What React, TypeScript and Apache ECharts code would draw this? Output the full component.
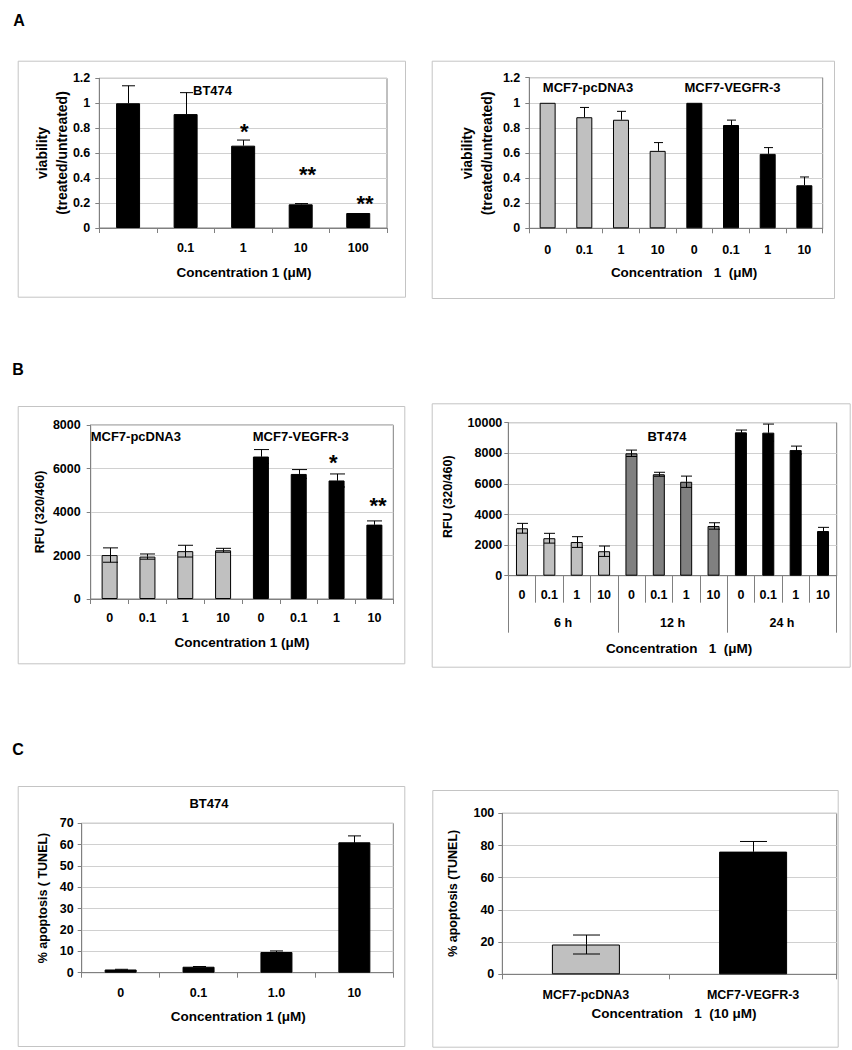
import React, { useEffect, useRef } from "react";
import * as echarts from "echarts";

const FONT = "'Liberation Sans', Arial, Helvetica, sans-serif";
const LIGHT = "#c0c0c0";
const DARK = "#808080";
const BLACK = "#000000";
const AXIS = "#808080";
const GRIDLINE = "#d0d0d0";
const BOX = "#c4c4c4";

// ---- Panel A left: BT474 viability
const aLeftCategories = ["", "0.1", "1", "10", "100"];
const aLeftViability = [1.0, 0.913, 0.66, 0.19, 0.12];
const aLeftUpper = [1.14, 1.085, 0.705, 0.196, 0.12];

// ---- Panel A right: MCF7 viability
const doseCategories = ["0", "0.1", "1", "10", "0", "0.1", "1", "10"];
const aRightPcDNA3 = [1.0, 0.885, 0.865, 0.617];
const aRightPcDNA3Upper = [1.0, 0.963, 0.932, 0.683];
const aRightVEGFR3 = [1.0, 0.823, 0.593, 0.343];
const aRightVEGFR3Upper = [1.0, 0.862, 0.643, 0.409];

// ---- Panel B left: MCF7 RFU
const bLeftPcDNA3 = [2020, 1950, 2200, 2240];
const bLeftPcDNA3Low = [1690, 1830, 1930, 2150];
const bLeftPcDNA3High = [2350, 2070, 2470, 2330];
const bLeftVEGFR3 = [6550, 5750, 5450, 3420];
const bLeftVEGFR3Low = [6230, 5550, 5150, 3250];
const bLeftVEGFR3High = [6870, 5950, 5750, 3590];

// ---- Panel B right: BT474 RFU over time
const bRightDoses = ["0", "0.1", "1", "10", "0", "0.1", "1", "10", "0", "0.1", "1", "10"];
const bRightTimes = ["6 h", "12 h", "24 h"];
const bRight6h = [3100, 2450, 2200, 1600];
const bRight6hLow = [2780, 2130, 1850, 1260];
const bRight6hHigh = [3420, 2770, 2550, 1940];
const bRight12h = [8000, 6630, 6140, 3250];
const bRight12hLow = [7790, 6500, 5770, 3040];
const bRight12hHigh = [8210, 6760, 6510, 3460];
const bRight24h = [9370, 9350, 8210, 2920];
const bRight24hLow = [9220, 8790, 7950, 2680];
const bRight24hHigh = [9520, 9910, 8470, 3160];

// ---- Panel C left: BT474 apoptosis
const cLeftCategories = ["0", "0.1", "1.0", "10"];
const cLeftApoptosis = [1.5, 2.8, 9.7, 61.1];
const cLeftLow = [1.5, 2.8, 9.7, 58.1];
const cLeftHigh = [1.6, 2.9, 10.2, 64.1];

// ---- Panel C right: MCF7 apoptosis
const cRightCategories = ["MCF7-pcDNA3", "MCF7-VEGFR-3"];
const cRightApoptosis = [18.5, 76.2];
const cRightLow = [12.6, 69.9];
const cRightHigh = [24.4, 82.5];

const txt = (size: number) => ({ color: "#000", fontSize: size, fontWeight: "bold" as const, fontFamily: FONT });

const errData = (vals: number[], lo: number[], hi: number[], offset = 0) =>
  vals.map((v, i) => [i + offset, v, lo[i], hi[i]]);

const errorRender = (cap: number) => (_params: any, api: any) => {
  const idx = api.value(0);
  const v = api.value(1);
  const lo = api.value(2);
  const hi = api.value(3);
  const top = api.coord([idx, hi]);
  const bot = api.coord([idx, lo]);
  const mid = api.coord([idx, v]);
  const x = Math.round(top[0]) + 0.5;
  const style = { stroke: "#000", lineWidth: 1 };
  const children: any[] = [];
  if (hi > v) {
    children.push({ type: "line", shape: { x1: x, y1: top[1], x2: x, y2: mid[1] }, style });
    children.push({ type: "line", shape: { x1: x - cap / 2, y1: top[1], x2: x + cap / 2, y2: top[1] }, style });
  }
  if (lo < v) {
    children.push({ type: "line", shape: { x1: x, y1: bot[1], x2: x, y2: mid[1] }, style });
    children.push({ type: "line", shape: { x1: x - cap / 2, y1: bot[1], x2: x + cap / 2, y2: bot[1] }, style });
  }
  return { type: "group", children };
};

const catAxis = (gridIndex: number, data: string[], margin: number, extra: any = {}) => ({
  type: "category",
  gridIndex,
  data,
  boundaryGap: true,
  axisLine: { show: true, lineStyle: { color: AXIS, width: 1 } },
  axisTick: { show: true, interval: 0, length: 5, lineStyle: { color: AXIS } },
  axisLabel: { interval: 0, margin, ...txt(12.5) },
  splitLine: { show: false },
  ...extra,
});

const valAxis = (gridIndex: number, max: number, interval: number, margin: number) => ({
  type: "value",
  gridIndex,
  min: 0,
  max,
  interval,
  axisLine: { show: true, lineStyle: { color: AXIS, width: 1 } },
  axisTick: { show: true, length: 4, lineStyle: { color: AXIS } },
  axisLabel: { margin, ...txt(12.5), formatter: (v: number) => String(Math.round(v * 1000) / 1000) },
  splitLine: { show: true, lineStyle: { color: GRIDLINE, width: 1 } },
});

const barItems = (vals: number[], color: string) => vals.map((v) => ({ value: v, itemStyle: { color } }));

const barSeries = (xi: number, yi: number, data: any[], width: number) => ({
  type: "bar",
  xAxisIndex: xi,
  yAxisIndex: yi,
  data,
  barWidth: width,
  z: 2,
  itemStyle: { color: BLACK, borderColor: "#000", borderWidth: 1 },
  silent: true,
});

const errSeries = (xi: number, yi: number, data: number[][], cap: number) => ({
  type: "custom",
  xAxisIndex: xi,
  yAxisIndex: yi,
  data,
  z: 3,
  silent: true,
  renderItem: errorRender(cap),
});

const label = (text: string, x: number, y: number, size = 12, align = "center", rotate = false) => ({
  type: "text",
  x,
  y,
  rotation: rotate ? Math.PI / 2 : 0,
  z: 10,
  silent: true,
  style: {
    text,
    fill: "#000",
    fontSize: size,
    fontWeight: "bold",
    fontFamily: FONT,
    align,
    verticalAlign: "middle",
  },
});

const box = (x: number, y: number, w: number, h: number) => ({
  type: "rect",
  shape: { x: x + 0.5, y: y + 0.5, width: w, height: h },
  z: 0,
  silent: true,
  style: { fill: "none", stroke: BOX, lineWidth: 1 },
});

const buildOption = () => {
  const grid = [
    { left: 99.3, top: 78.3, width: 287.7, height: 149.7 },
    { left: 529.3, top: 77.7, width: 293.4, height: 150.6 },
    { left: 90.7, top: 425, width: 302.6, height: 174 },
    { left: 508.3, top: 422.7, width: 328.4, height: 153 },
    { left: 81.7, top: 823.3, width: 311.6, height: 149.4 },
    { left: 502.3, top: 813.3, width: 334.4, height: 161 },
  ].map((g) => ({ ...g, show: true, borderColor: AXIS, borderWidth: 1, backgroundColor: "transparent" }));

  const xAxis = [
    catAxis(0, aLeftCategories, 13),
    catAxis(1, doseCategories, 15),
    catAxis(2, doseCategories, 12),
    catAxis(3, bRightDoses, 13, { axisTick: { show: true, interval: 0, length: 27, lineStyle: { color: AXIS } } }),
    catAxis(3, bRightTimes, 41, {
      position: "bottom",
      axisLine: { show: false },
      axisTick: { show: true, interval: 0, length: 57, lineStyle: { color: AXIS } },
    }),
    catAxis(4, cLeftCategories, 14),
    catAxis(5, cRightCategories, 14),
  ];

  const yAxis = [
    valAxis(0, 1.2, 0.2, 9),
    valAxis(1, 1.2, 0.2, 9),
    valAxis(2, 8000, 2000, 10),
    valAxis(3, 10000, 2000, 6),
    valAxis(4, 70, 10, 8),
    valAxis(5, 100, 20, 8),
  ];

  const series: any[] = [
    // A left
    barSeries(0, 0, aLeftViability, 24),
    errSeries(0, 0, errData(aLeftViability, aLeftViability, aLeftUpper), 13),
    // A right
    barSeries(1, 1, [...barItems(aRightPcDNA3, LIGHT), ...barItems(aRightVEGFR3, BLACK)], 16),
    errSeries(1, 1, errData(aRightPcDNA3, aRightPcDNA3, aRightPcDNA3Upper), 9),
    errSeries(1, 1, errData(aRightVEGFR3, aRightVEGFR3, aRightVEGFR3Upper, 4), 9),
    // B left
    barSeries(2, 2, [...barItems(bLeftPcDNA3, LIGHT), ...barItems(bLeftVEGFR3, BLACK)], 16),
    errSeries(2, 2, errData(bLeftPcDNA3, bLeftPcDNA3Low, bLeftPcDNA3High), 15),
    errSeries(2, 2, errData(bLeftVEGFR3, bLeftVEGFR3Low, bLeftVEGFR3High, 4), 15),
    // B right
    barSeries(3, 3, [...barItems(bRight6h, LIGHT), ...barItems(bRight12h, DARK), ...barItems(bRight24h, BLACK)], 12),
    errSeries(3, 3, errData(bRight6h, bRight6hLow, bRight6hHigh), 11),
    errSeries(3, 3, errData(bRight12h, bRight12hLow, bRight12hHigh, 4), 11),
    errSeries(3, 3, errData(bRight24h, bRight24hLow, bRight24hHigh, 8), 11),
    // C left
    barSeries(5, 4, cLeftApoptosis, 32),
    errSeries(5, 4, errData(cLeftApoptosis, cLeftLow, cLeftHigh), 13),
    // C right
    barSeries(6, 5, [...barItems([cRightApoptosis[0]], LIGHT), ...barItems([cRightApoptosis[1]], BLACK)], 68),
    errSeries(6, 5, errData(cRightApoptosis, cRightLow, cRightHigh), 27),
  ];

  const graphic = [
    // panel frames
    box(17.7, 60.7, 387.3, 236),
    box(431.7, 60.7, 402.3, 237.3),
    box(17.7, 406, 386.6, 257.3),
    box(431.7, 403.3, 418, 263.4),
    box(17.7, 786, 386.6, 260),
    box(432.3, 790, 405.4, 256.7),
    // panel letters
    label("A", 19, 20, 16),
    label("B", 18, 369, 16),
    label("C", 18, 749, 16),
    // axis titles
    label("Concentration 1 (μM)", 244, 272, 13.5),
    label("Concentration   1  (μM)", 684, 272.3, 13.5),
    label("Concentration 1 (μM)", 242, 642.7, 13.5),
    label("Concentration   1  (μM)", 679, 648, 13.5),
    label("Concentration 1 (μM)", 238.3, 1016.7, 13.5),
    label("Concentration   1  (10 μM)", 674, 1013.3, 13.5),
    label("viability", 41.7, 153, 14, "center", true),
    label("(treated/untreated)", 61.7, 153, 14, "center", true),
    label("viability", 466.7, 153.3, 14, "center", true),
    label("(treated/untreated)", 486.7, 153.3, 14, "center", true),
    label("RFU (320/460)", 40, 512, 12.5, "center", true),
    label("RFU (320/460)", 448.3, 496.7, 12.5, "center", true),
    label("% apoptosis ( TUNEL)", 43.3, 898, 12.5, "center", true),
    label("% apoptosis (TUNEL)", 453.3, 893.3, 12.5, "center", true),
    // in-plot annotations
    label("BT474", 193, 90, 13, "left"),
    label("*", 244.3, 131.5, 22),
    label("**", 307.5, 174, 22),
    label("**", 365, 203, 22),
    label("MCF7-pcDNA3", 588, 87.3, 13),
    label("MCF7-VEGFR-3", 732.5, 87.3, 13),
    label("MCF7-pcDNA3", 135.8, 436, 13),
    label("MCF7-VEGFR-3", 300.8, 436, 13),
    label("*", 333.3, 462.3, 22),
    label("**", 378, 505.7, 22),
    label("BT474", 667, 436.7, 13),
    label("BT474", 209, 803.3, 13),
  ];

  return {
    animation: false,
    backgroundColor: "#ffffff",
    textStyle: { fontFamily: FONT },
    grid,
    xAxis,
    yAxis,
    series,
    graphic,
  };
};

export default function App() {
  const ref = useRef<HTMLDivElement>(null);
  useEffect(() => {
    if (!ref.current) return;
    const chart = echarts.init(ref.current, undefined, { renderer: "svg" });
    chart.setOption(buildOption() as any);
    return () => chart.dispose();
  }, []);
  return (
    <div
      ref={ref}
      style={{ position: "absolute", left: 0, top: 0, width: 852, height: 1050, background: "#fff" }}
    />
  );
}
